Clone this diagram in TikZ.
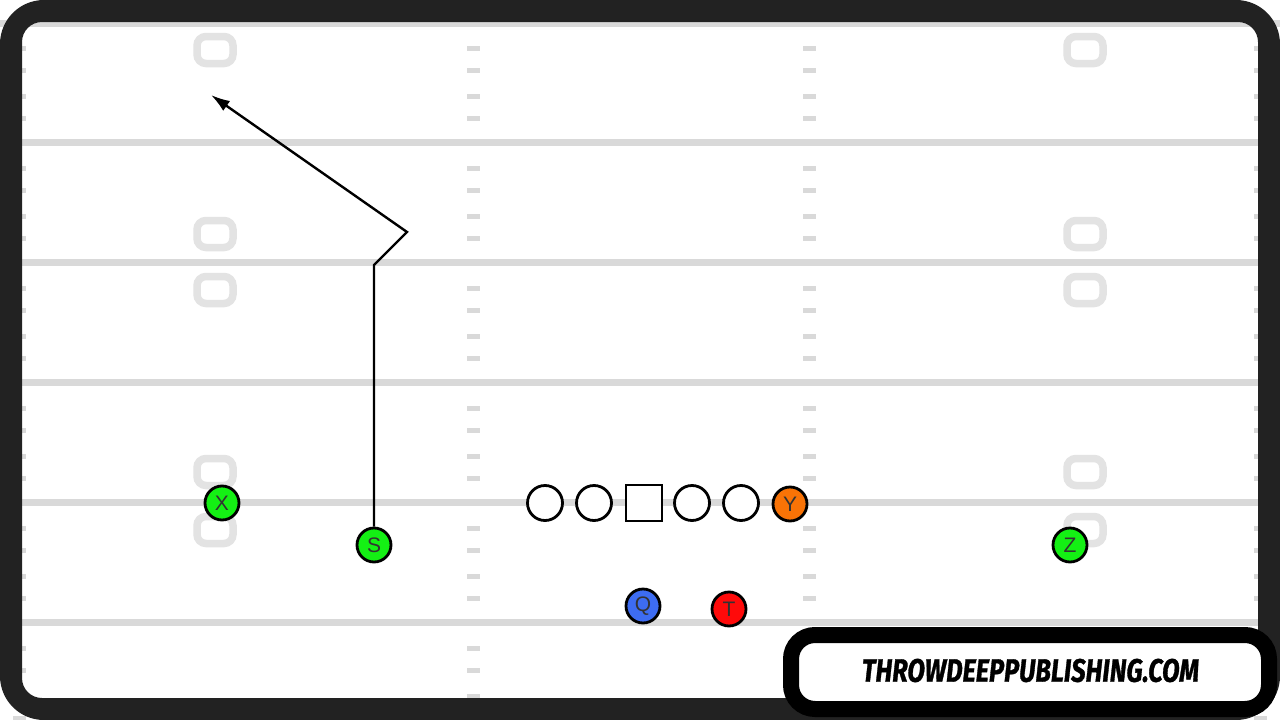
\documentclass[tikz,border=0pt]{standalone}
\usepackage{fontspec}
\setmainfont{Liberation Sans}
\newfontfamily\logofont{Fira Sans}[BoldItalicFeatures={FakeBold=1.2}]
\usetikzlibrary{arrows.meta}
\definecolor{framecol}{HTML}{222222}
\definecolor{yardcol}{HTML}{D9D9D9}
\definecolor{numcol}{HTML}{E3E3E3}
\definecolor{pgreen}{HTML}{14F014}
\definecolor{porange}{HTML}{F97306}
\definecolor{pblue}{HTML}{3D6CF2}
\definecolor{pred}{HTML}{FF0A0A}
\definecolor{ptext}{HTML}{333333}
\begin{document}
\begin{tikzpicture}[x=1pt,y=-1pt,
  yardline/.style={draw=yardcol,line width=7pt},
  hashmark/.style={fill=yardcol},
  numbox/.style={draw=numcol,line width=7.5pt,rounded corners=9pt},
  player/.style={circle,draw=black,line width=2.8pt,minimum size=34pt,inner sep=0pt,
    text=ptext,font=\fontsize{21}{21}\selectfont},
  lineman/.style={circle,draw=black,line width=2.8pt,minimum size=35pt,inner sep=0pt,fill=white},
  center/.style={rectangle,draw=black,line width=2.8pt,minimum size=36pt,inner sep=0pt,fill=white},
  route/.style={draw=black,line width=2.4pt,-{Latex[length=19pt,width=12pt]}}]
\useasboundingbox (0,0) rectangle (1280,720);
\fill[white] (0,0) rectangle (1280,720);
% yard lines
\foreach \y in {23,142,262,382,502,622}
  \draw[yardline] (0,\y) -- (1280,\y);
% hash marks
\foreach \b in {22,142,262,382,502,622}
  \foreach \o in {26,48,74,96} {
    \fill[hashmark] (467,\b+\o-2.5) rectangle (480,\b+\o+2.5);
    \fill[hashmark] (803,\b+\o-2.5) rectangle (816,\b+\o+2.5);
    \fill[hashmark] (13,\b+\o-2.5) rectangle (26,\b+\o+2.5);
    \fill[hashmark] (1254,\b+\o-2.5) rectangle (1267,\b+\o+2.5);
  }
% field numbers
\foreach \x in {215,1085}
  \foreach \y in {50,234,290,472,530}
    \draw[numbox] (\x-18,\y-13.5) rectangle (\x+18,\y+13.5);
% players
\node[player,fill=pgreen] (X) at (222,503) {X};
\node[player,fill=pgreen] (S) at (374,545) {S};
\node[player,fill=pgreen] (Z) at (1070,545) {Z};
\node[lineman] (LT) at (545,503) {};
\node[lineman] (LG) at (594,503) {};
\node[center] (C) at (644,503) {};
\node[lineman] (RG) at (692,503) {};
\node[lineman] (RT) at (741,503) {};
\node[player,fill=porange] (Y) at (790,504) {Y};
\node[player,fill=pblue] (Q) at (643,606) {Q};
\node[player,fill=pred] (T) at (729,609) {T};
% route
\coordinate (r1) at (374,265);
\coordinate (r2) at (407,232);
\coordinate (r3) at (211,95);
\draw[route] (S.north) -- (r1) -- (r2) -- (r3);
% frame
\fill[framecol,even odd rule] [rounded corners=44pt] (0,0) rectangle (1280,720)
  [rounded corners=20pt] (22,22) rectangle (1258,698);
% logo
\draw[draw=black,line width=16pt,fill=white,rounded corners=24pt] (791,635) rectangle (1269,709);
\node[inner sep=0pt] (logo) at (1030.5,670.5)
  {\resizebox{337pt}{23pt}{\logofont\bfseries\itshape THROWDEEPPUBLISHING.COM}};
\end{tikzpicture}
\end{document}
